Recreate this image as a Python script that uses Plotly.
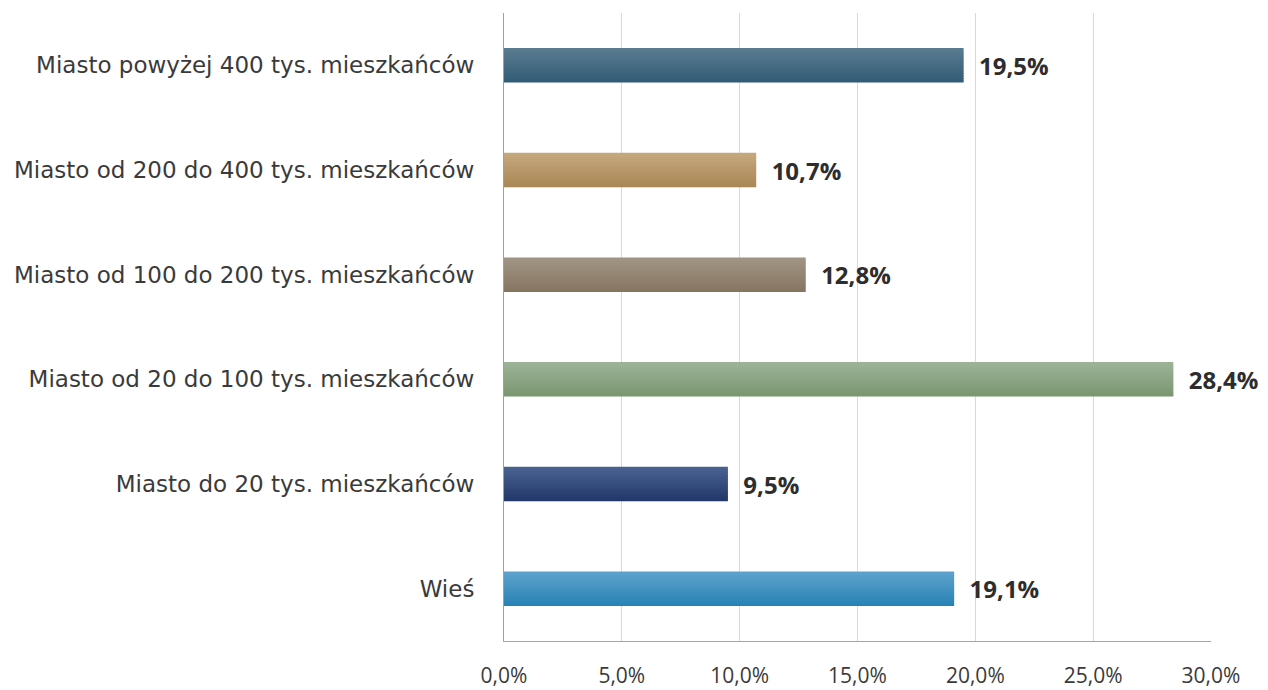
import plotly.graph_objects as go

# ---- data ----
categories = [
    "Wieś",
    "Miasto do 20 tys. mieszkańców",
    "Miasto od 20 do 100 tys. mieszkańców",
    "Miasto od 100 do 200 tys. mieszkańców",
    "Miasto od 200 do 400 tys. mieszkańców",
    "Miasto powyżej 400 tys. mieszkańców",
]
values = [19.1, 9.5, 28.4, 12.8, 10.7, 19.5]
x_ticks = [0, 5, 10, 15, 20, 25, 30]
x_tick_labels = ["0,0%", "5,0%", "10,0%", "15,0%", "20,0%", "25,0%", "30,0%"]

# ---- styles (bottom colour, top colour) per category ----
grad_bottom = ["#2580b3", "#1f3568", "#78956e", "#84745f", "#a88452", "#2f5a74"]
grad_top = ["#5ea2cd", "#4a6290", "#9cb396", "#a29484", "#c6a87e", "#5a7b90"]

FONT = "Open Sans"
LABEL_FONT = "DejaVu Sans"
BAR_W = 0.33
N_STRIPES = 14
EPS = 0.012


def hex2rgb(h):
    h = h.lstrip("#")
    return tuple(int(h[i:i + 2], 16) for i in (0, 2, 4))


def mix(c1, c2, t):
    a, b = hex2rgb(c1), hex2rgb(c2)
    return "rgb({},{},{})".format(*[round(a[k] + (b[k] - a[k]) * t) for k in range(3)])


fig = go.Figure()

# gradient bars built from thin overlaid stripes (bottom to top)
for i in range(N_STRIPES):
    t = (i + 0.5) / N_STRIPES
    ext = EPS if i > 0 else 0.0
    fig.add_trace(go.Bar(
        y=categories,
        x=values,
        orientation="h",
        width=BAR_W / N_STRIPES + ext,
        offset=-BAR_W / 2 + i * BAR_W / N_STRIPES - ext,
        marker=dict(color=[mix(b, tp, t) for b, tp in zip(grad_bottom, grad_top)],
                    line=dict(width=0)),
        hoverinfo="skip",
        showlegend=False,
    ))

# value labels
fig.add_trace(go.Bar(
    y=categories,
    x=values,
    orientation="h",
    width=BAR_W,
    marker=dict(color="rgba(0,0,0,0)", line=dict(width=0)),
    texttemplate="\u00a0\u00a0%{x:.1f}%",
    textposition="outside",
    constraintext="none",
    cliponaxis=False,
    textfont=dict(family=FONT, size=24, color="#2d2d2d", weight="bold"),
    showlegend=False,
))

fig.update_layout(
    width=1260,
    height=682,
    barmode="overlay",
    separators=", ",
    paper_bgcolor="white",
    plot_bgcolor="white",
    margin=dict(l=496, r=57, t=5, b=49, autoexpand=False),
    font=dict(family=FONT, color="#3a3a3a"),
    xaxis=dict(
        range=[0, 30],
        tickvals=x_ticks,
        ticktext=x_tick_labels,
        showgrid=True,
        gridcolor="#d9d9d9",
        gridwidth=1,
        zeroline=False,
        showline=True,
        linecolor="#a6a6a6",
        linewidth=1,
        ticks="",
        automargin=False,
        ticklabelstandoff=16,
        tickfont=dict(family=FONT, size=21, color="#3a3a3a"),
    ),
    yaxis=dict(
        categoryorder="array",
        categoryarray=categories,
        showgrid=False,
        zeroline=False,
        showline=True,
        linecolor="#a0a0a0",
        linewidth=1,
        ticks="",
        automargin=False,
        ticklabelstandoff=24,
        tickfont=dict(family=LABEL_FONT, size=23, color="#3a3a3a"),
    ),
)

fig.write_html("out.html")
